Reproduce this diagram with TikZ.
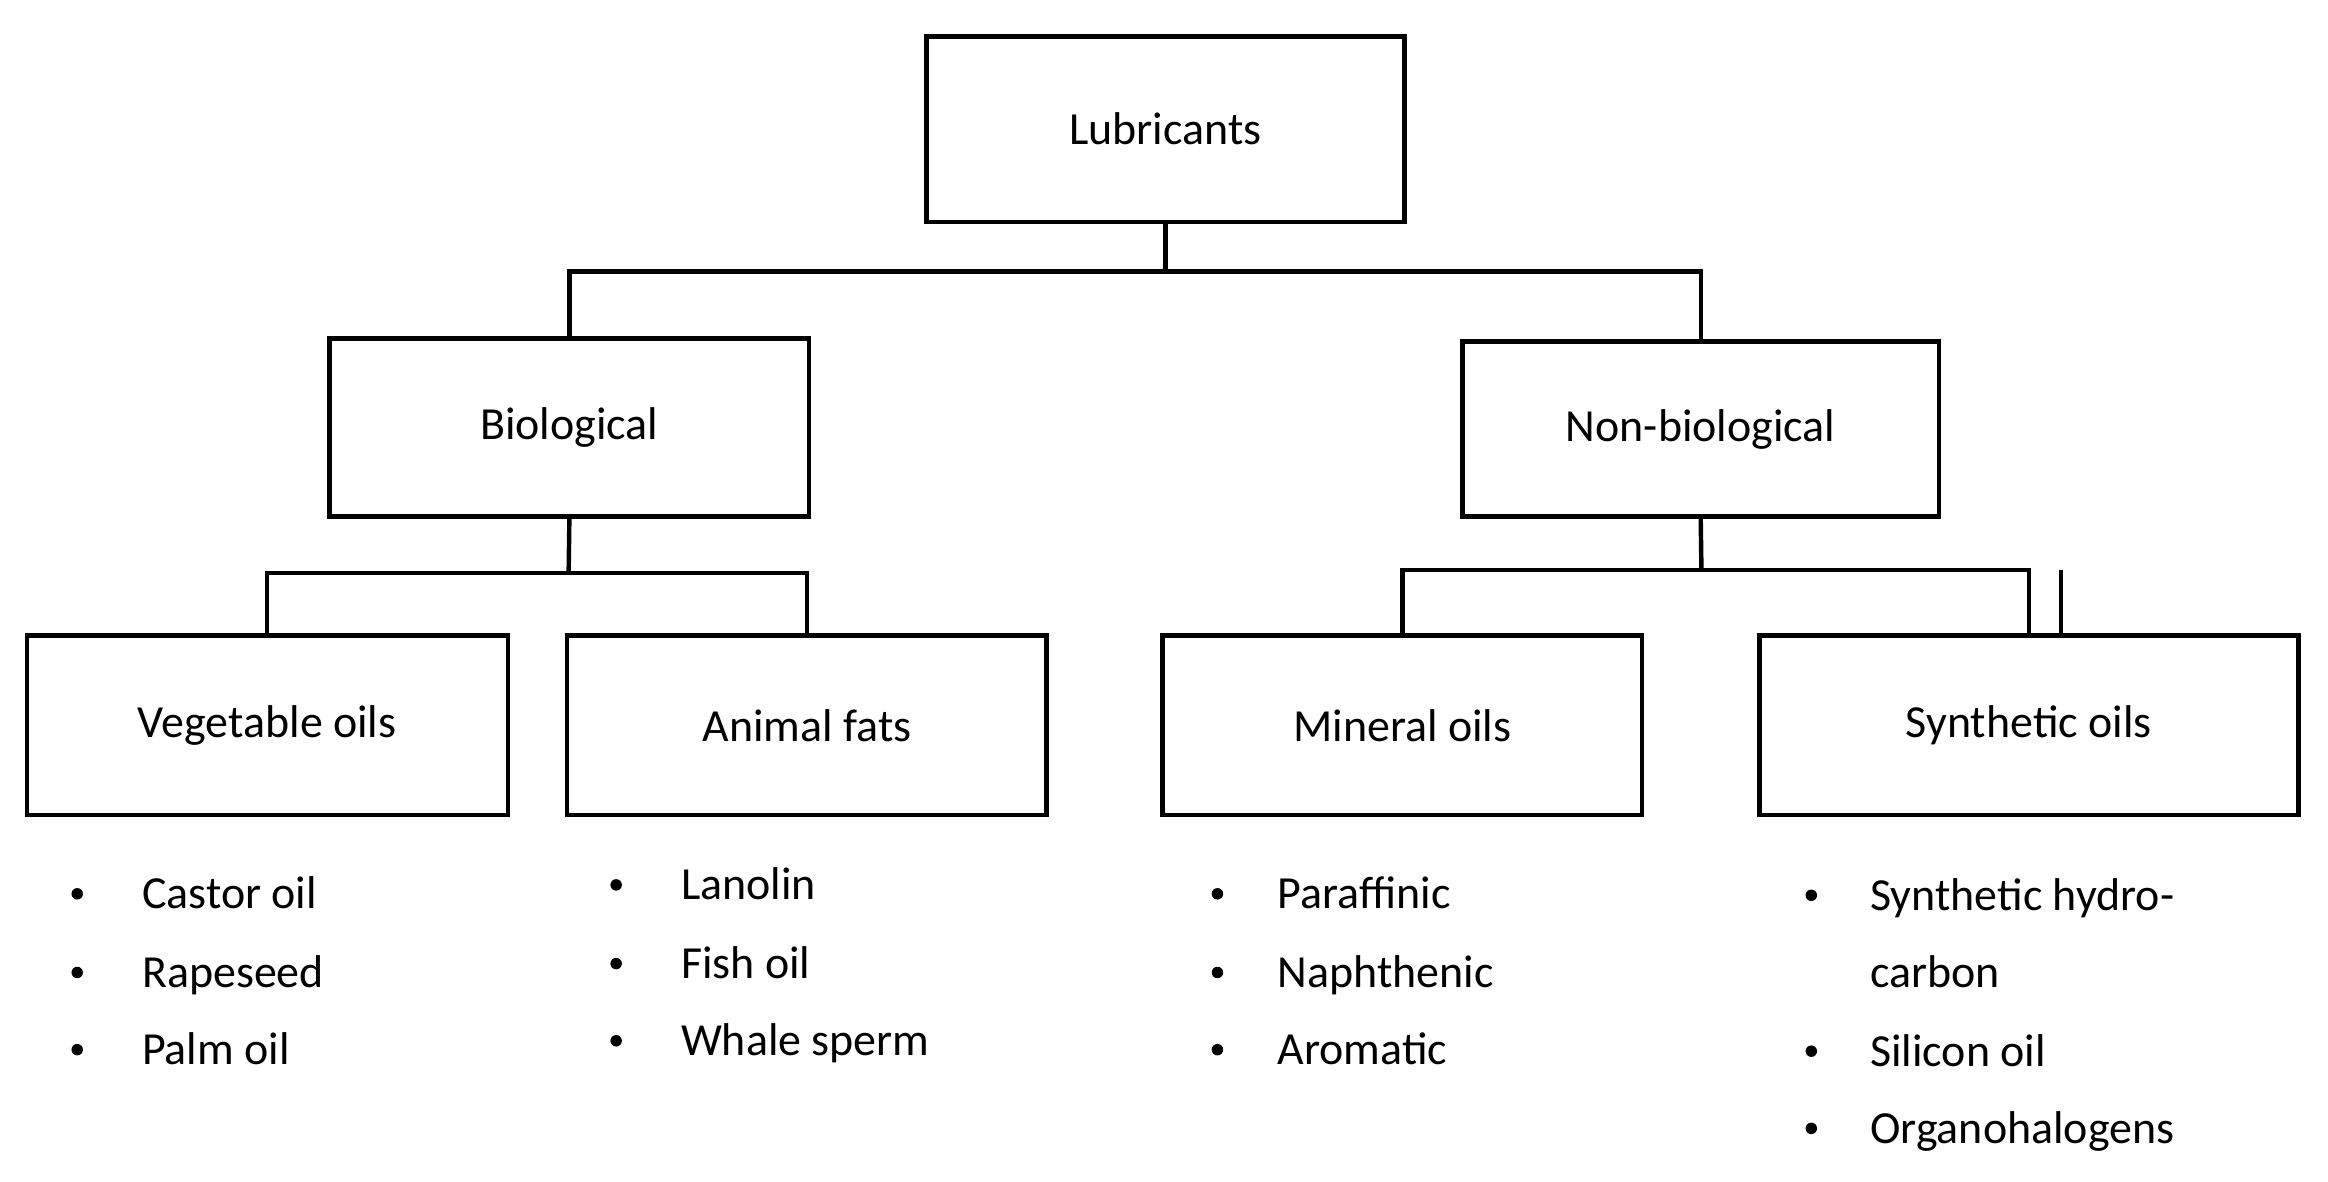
\documentclass[tikz,border=0pt]{standalone}
\usepackage{fontspec}
\setmainfont{Carlito}
\begin{document}
\begin{tikzpicture}[x=0.01cm,y=-0.01cm,
 box/.style={draw,line width=0.85pt,minimum width=#1*0.01cm,minimum height=121*0.01cm,inner sep=0pt,font=\fontsize{8.8}{10}\selectfont},
 ln/.style={line width=0.85pt},
 it/.style={anchor=base west,inner sep=0pt,font=\fontsize{8.8}{10}\selectfont},
 bul/.style={circle,fill,inner sep=0pt,minimum size=2.2pt}]
\useasboundingbox (0,0) rectangle (1568,796);
\node[box=322,minimum height=125*0.01cm] (lub) at (785,87) {Lubricants};
\node[box=323,minimum height=120*0.01cm] (bio) at (383.5,288) {Biological};
\node[box=321,minimum height=118*0.01cm] (non) at (1145.5,289) {Non-biological};
\node[box=324] (veg) at (180,488.5) {Vegetable oils};
\node[box=323] (ani) at (543.5,488.5) {Animal fats};
\node[box=323] (min) at (944.5,488.5) {Mineral oils};
\node[box=363] (syn) at (1366.5,488.5) {Synthetic oils};
\coordinate (j1) at (785,183);
\coordinate (j2) at (383,386);
\coordinate (j3) at (1146,384);
\draw[ln] (lub.south) -- (j1);
\draw[ln] (bio.north) |- (j1) -| (non.north);
\draw[ln] (bio.south) -- (j2);
\draw[ln] (veg.north) |- (j2) -| (ani.north);
\draw[ln] (non.south) -- (j3);
\draw[ln] (min.north) |- (j3) -| (syn.north |- min.north);
\draw[ln] (1388,384) -- (1388,428);
% lists
\foreach \t/\y [count=\i] in {Castor oil/612,Rapeseed/665,Palm oil/717}{
 \node[bul] (vb\i) at (52,\y-10) {}; \node[it] (vt\i) at (95,\y) {\t};}
\foreach \t/\y [count=\i] in {Lanolin/606,Fish oil/659,Whale sperm/711}{
 \node[bul] (ab\i) at (415,\y-10) {}; \node[it] (at\i) at (458,\y) {\t};}
\foreach \t/\y [count=\i] in {Paraffinic/612,Naphthenic/665,Aromatic/717}{
 \node[bul] (mb\i) at (820,\y-10) {}; \node[it] (mt\i) at (860,\y) {\t};}
\node[bul] (sb1) at (1220,603) {}; \node[it] (st1) at (1259,613) {Synthetic hydro-};
\node[it] (st2) at (1259,665) {carbon};
\node[bul] (sb3) at (1220,708) {}; \node[it] (st3) at (1259,718) {Silicon oil};
\node[bul] (sb4) at (1220,760) {}; \node[it] (st4) at (1259,770) {Organohalogens};
\end{tikzpicture}
\end{document}
